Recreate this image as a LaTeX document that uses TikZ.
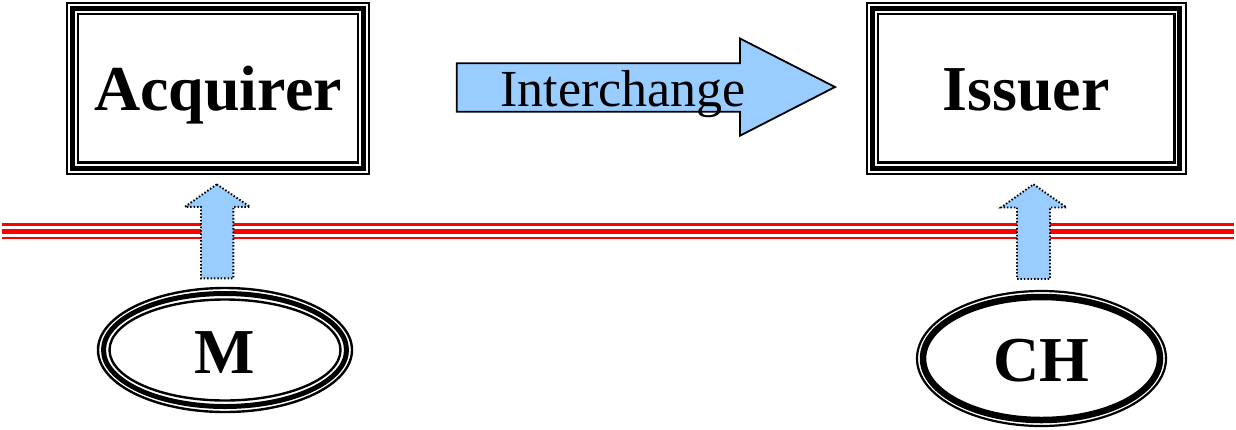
\documentclass[tikz,border=0pt]{standalone}
\usepackage{fontspec}
\setmainfont{Liberation Serif}
\definecolor{arrowblue}{HTML}{99CCFF}
\definecolor{linered}{HTML}{FF0000}

% frame of three nested rectangles: thin, thick, thin
\newcommand\tripleframe[4]{%
  \draw[line width=2pt] (#1,#2) rectangle (#3,#4);
  \draw[line width=5pt] (#1+5.6,#2+5.8) rectangle (#3-5.6,#4-5.8);
  \draw[line width=2.4pt] (#1+11.2,#2+11.6) rectangle (#3-11.2,#4-11.6);
}

\begin{document}
\begin{tikzpicture}[x=1pt,y=-1pt,
  bigtext/.style={font=\fontsize{64}{64}\selectfont\bfseries, anchor=base, inner sep=0pt},
  flowtext/.style={font=\fontsize{52}{52}\selectfont, anchor=base, inner sep=0pt},
  blockarrow/.style={fill=arrowblue, draw=black, line width=1.8pt, line join=miter},
  uparrow/.style={fill=arrowblue, draw=black, line width=1.9pt, dash pattern=on 1.5pt off 1.9pt},
  redline/.style={draw=linered}]
\useasboundingbox (0,0) rectangle (1236,429);

% boundary: triple red line
\draw[redline, line width=2.2pt] (1.5,224.5) -- (1234,224.5);
\draw[redline, line width=5.2pt] (1.5,231.3) -- (1234,231.3);
\draw[redline, line width=2.2pt] (1.5,238) -- (1234,238);

% Acquirer and Issuer boxes
\tripleframe{66.8}{2.6}{369.2}{174.2}
\tripleframe{866.5}{2.6}{1185.5}{174.2}
\node[bigtext] (acq) at (218,110) {Acquirer};
\node[bigtext] (iss) at (1026,110) {Issuer};

% Merchant: three nested ellipses
\draw[line width=2.4pt] (225,350) ellipse [x radius=127pt, y radius=62pt];
\draw[line width=5pt] (225,350) ellipse [x radius=121.5pt, y radius=56.5pt];
\draw[line width=2.4pt] (225,350) ellipse [x radius=115.5pt, y radius=50.5pt];
\node[bigtext] (mer) at (225,373.3) {M};

% Cardholder: thin outer ellipse with thick inner ellipse
\draw[line width=2.2pt] (1041.5,358.5) ellipse [x radius=124.5pt, y radius=67.5pt];
\draw[line width=6.5pt] (1041.5,358.5) ellipse [x radius=118.5pt, y radius=61.5pt];
\node[bigtext] (ch) at (1041.5,381.7) {CH};

% Interchange block arrow
\draw[blockarrow] (456.7,63.3) -- (740,63.3) -- (740,38.5) -- (835,87) -- (740,135.7)
  -- (740,111.7) -- (456.7,111.7) -- cycle;
\node[flowtext] (xchg) at (623,106.7) {Interchange};

% dotted upward arrows crossing the boundary
\draw[uparrow] (216.8,184.3) -- (250,206.8) -- (233.3,206.8) -- (233.3,278.3)
  -- (201,278.3) -- (201,206.8) -- (185,206.8) -- cycle;
\draw[uparrow] (1033.5,184.3) -- (1066.5,207.5) -- (1050,207.5) -- (1050,279)
  -- (1017,279) -- (1017,207.5) -- (1001,207.5) -- cycle;
\end{tikzpicture}
\end{document}
